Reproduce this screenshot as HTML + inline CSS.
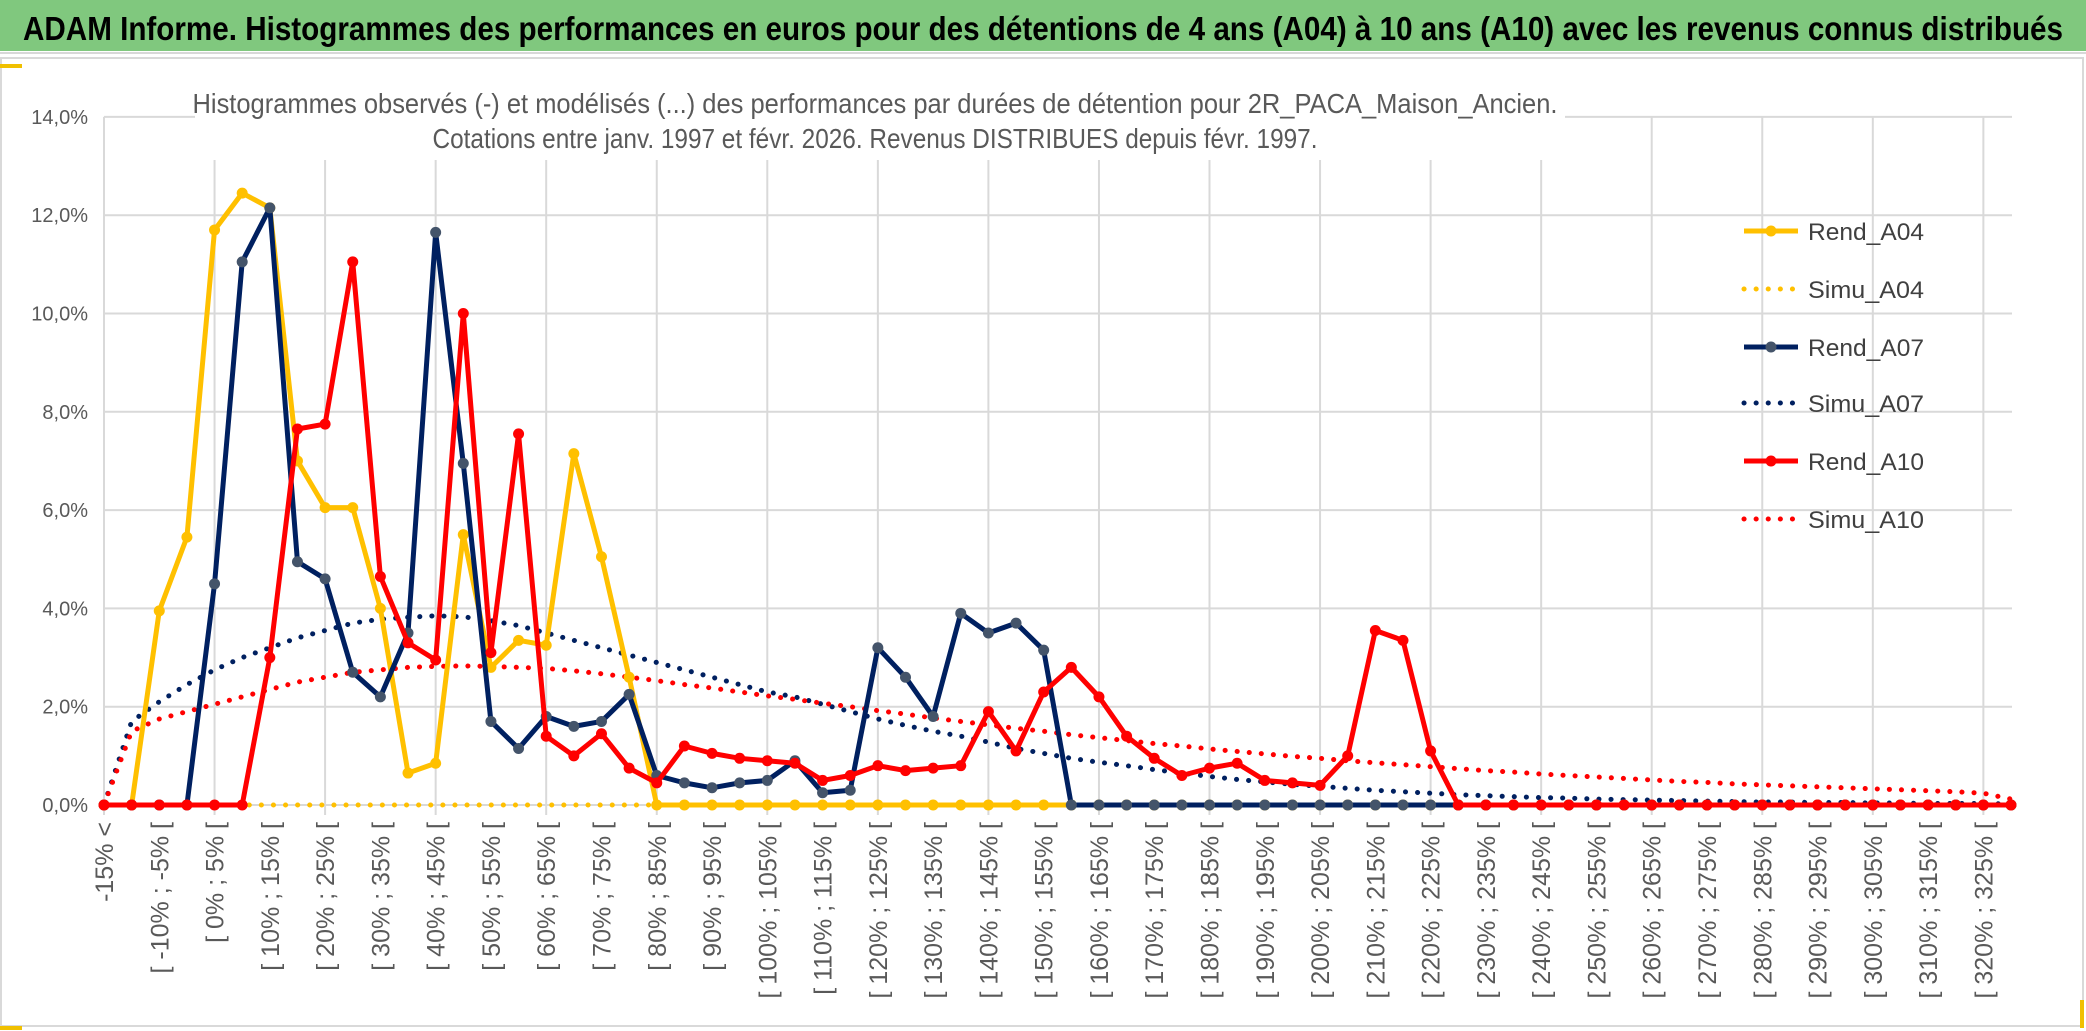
<!DOCTYPE html>
<html><head><meta charset="utf-8"><style>
html,body{margin:0;padding:0;background:#fff;}
svg{display:block;font-family:"Liberation Sans",sans-serif;}
</style></head><body>
<svg id="chart" width="2086" height="1031" viewBox="0 0 2086 1031">
<rect x="0" y="0" width="2086" height="1031" fill="#fff"/>
<rect x="0" y="0" width="2086" height="51" fill="#80C87E"/>
<line x1="0" y1="53" x2="2086" y2="53" stroke="#d8d8d8" stroke-width="2"/>
<text x="1043" y="40" text-anchor="middle" font-size="33" font-weight="bold" fill="#000" textLength="2040" lengthAdjust="spacingAndGlyphs">ADAM Informe. Histogrammes des performances en euros pour des détentions de 4 ans (A04) à 10 ans (A10) avec les revenus connus distribués</text>
<rect x="1" y="58" width="2082" height="968" fill="none" stroke="#d9d9d9" stroke-width="2"/>
<rect x="0" y="64" width="22" height="4" fill="#F0C000"/>
<rect x="0" y="1026" width="22" height="4" fill="#F0C000"/>
<rect x="2080" y="1000" width="4" height="28" fill="#F0C000"/>
<g id="grid"></g>
<g id="yaxis"></g>
<g id="xaxis"></g>
<rect x="195" y="80" width="1370" height="80" fill="#fff"/>
<text x="875" y="113" text-anchor="middle" font-size="28" fill="#595959" textLength="1365" lengthAdjust="spacingAndGlyphs">Histogrammes observés (-) et modélisés (...) des performances par durées de détention pour 2R_PACA_Maison_Ancien.</text>
<text x="875" y="148" text-anchor="middle" font-size="28" fill="#595959" textLength="885" lengthAdjust="spacingAndGlyphs">Cotations entre janv. 1997 et févr. 2026. Revenus DISTRIBUES depuis févr. 1997.</text>
<g id="series"></g>
<g id="legend"></g>
</svg>
<script>
const categoriesCount = 70;
const yTicks = [0,2,4,6,8,10,12,14];
const rendA04 = [0,0,3.95,5.45,11.7,12.45,12.15,7.0,6.05,6.05,4.0,0.65,0.85,5.5,2.8,3.35,3.25,7.15,5.05,2.6,0,0,0,0,0,0,0,0,0,0,0,0,0,0,0,0,0,0,0,0,0,0,0,0,0,0,0,0,0,0,0,0,0,0,0,0,0,0,0,0,0,0,0,0,0,0,0,0,0,0];
const simuA04 = [0,0,0,0,0,0,0,0,0,0,0,0,0,0,0,0,0,0,0,0,0,0,0,0,0,0,0,0,0,0,0,0,0,0,0,0,0,0,0,0,0,0,0,0,0,0,0,0,0,0,0,0,0,0,0,0,0,0,0,0,0,0,0,0,0,0,0,0,0,0];
const rendA07 = [0,0,0,0,4.5,11.05,12.15,4.95,4.6,2.7,2.2,3.5,11.65,6.95,1.7,1.15,1.8,1.6,1.7,2.25,0.6,0.45,0.35,0.45,0.5,0.9,0.25,0.3,3.2,2.6,1.8,3.9,3.5,3.7,3.15,0,0,0,0,0,0,0,0,0,0,0,0,0,0,0,0,0,0,0,0,0,0,0,0,0,0,0,0,0,0,0,0,0,0,0];
const simuA07 = [0,1.7,2.1,2.45,2.75,3.0,3.2,3.4,3.55,3.7,3.78,3.82,3.85,3.83,3.75,3.65,3.5,3.35,3.2,3.05,2.9,2.75,2.6,2.45,2.3,2.2,2.05,1.9,1.75,1.62,1.5,1.4,1.28,1.15,1.05,0.95,0.87,0.8,0.72,0.65,0.58,0.52,0.47,0.42,0.38,0.34,0.3,0.27,0.24,0.21,0.19,0.17,0.15,0.14,0.12,0.11,0.1,0.09,0.08,0.07,0.06,0.06,0.05,0.05,0.04,0.04,0.03,0.03,0.03,0.02];
const rendA10 = [0,0,0,0,0,0,3.0,7.65,7.75,11.05,4.65,3.3,2.95,10.0,3.1,7.55,1.4,1.0,1.45,0.75,0.45,1.2,1.05,0.95,0.9,0.85,0.5,0.6,0.8,0.7,0.75,0.8,1.9,1.1,2.3,2.8,2.2,1.4,0.95,0.6,0.75,0.85,0.5,0.45,0.4,1.0,3.55,3.35,1.1,0,0,0,0,0,0,0,0,0,0,0,0,0,0,0,0,0,0,0,0,0];
const simuA10 = [0,1.5,1.75,1.9,2.05,2.2,2.35,2.5,2.6,2.7,2.75,2.8,2.82,2.83,2.82,2.8,2.78,2.73,2.67,2.6,2.53,2.45,2.38,2.3,2.22,2.15,2.07,2.0,1.92,1.85,1.77,1.7,1.63,1.56,1.5,1.43,1.37,1.31,1.25,1.2,1.14,1.09,1.04,0.99,0.95,0.9,0.86,0.82,0.78,0.74,0.7,0.67,0.63,0.6,0.57,0.54,0.51,0.48,0.46,0.43,0.41,0.39,0.37,0.35,0.33,0.31,0.29,0.27,0.24,0.12];
const legendLabels = ["Rend_A04","Simu_A04","Rend_A07","Simu_A07","Rend_A10","Simu_A10"];

const NS = "http://www.w3.org/2000/svg";
const X0 = 104, X1 = 2011, Y0 = 805, PER2 = 98.3;
function xPos(i){ return X0 + (X1 - X0) * i / (categoriesCount - 1); }
function yPos(v){ return Y0 - v / 2 * PER2; }
function mk(tag, attrs, parent){ const e = document.createElementNS(NS, tag); for (const k in attrs) e.setAttribute(k, attrs[k]); parent.appendChild(e); return e; }
function catLabel(i){ if (i === 0) return "-15% <"; const lo = -15 + 5 * (i - 1); return "[ " + lo + "% ; " + (lo + 5) + "% ["; }

const grid = document.getElementById('grid');
yTicks.forEach(t => {
  const l = mk('line', {x1: X0, x2: 2012, y1: yPos(t), y2: yPos(t), stroke: '#d9d9d9', 'stroke-width': 2}, grid);
  
  
});
for (let i = 0; i < categoriesCount; i += 4) {
  const l = mk('line', {x1: xPos(i), x2: xPos(i), y1: yPos(14), y2: Y0 + 10, stroke: '#d9d9d9', 'stroke-width': 2}, grid);
  
  
}
const yax = document.getElementById('yaxis');
yTicks.forEach(t => {
  const tx = mk('text', {x: 88, y: yPos(t) + 7, 'text-anchor': 'end', 'font-size': 20, fill: '#595959'}, yax);
  tx.textContent = t.toFixed(1).replace('.', ',') + '%';
  
  
});
const xax = document.getElementById('xaxis');
for (let i = 0; i < categoriesCount; i += 2) {
  const x = xPos(i) + 9, y = 822;
  const tx = mk('text', {x: x, y: y, 'text-anchor': 'end', 'font-size': 25, fill: '#595959', transform: 'rotate(-90 ' + x + ' ' + y + ')'}, xax);
  tx.textContent = catLabel(i);
  
  
}

const seriesG = document.getElementById('series');
function dotted(data, color, name){
  const pts = data.map((v, i) => xPos(i) + ',' + yPos(v)).join(' ');
  const p = mk('polyline', {points: pts, fill: 'none', stroke: color, 'stroke-width': 5, 'stroke-linecap': 'round', 'stroke-dasharray': '0.1 12'}, seriesG);
  
  
}
function solid(data, color, mcolor, name){
  const pts = data.map((v, i) => xPos(i) + ',' + yPos(v)).join(' ');
  const p = mk('polyline', {points: pts, fill: 'none', stroke: color, 'stroke-width': 5, 'stroke-linejoin': 'round'}, seriesG);
  
  
  data.forEach((v, i) => {
    const c = mk('circle', {cx: xPos(i), cy: yPos(v), r: 5.5, fill: mcolor}, seriesG);
    
    
  });
}
dotted(simuA04, '#FFC000', 'simu-a04-line');
dotted(simuA07, '#002060', 'simu-a07-line');
dotted(simuA10, '#FF0000', 'simu-a10-line');
solid(rendA04, '#FFC000', '#FFC000', 'rend-a04-line');
solid(rendA07, '#002060', '#44546A', 'rend-a07-line');
solid(rendA10, '#FF0000', '#FF0000', 'rend-a10-line');

const leg = document.getElementById('legend');
const legColors = ['#FFC000','#FFC000','#002060','#002060','#FF0000','#FF0000'];
const legMarker = ['#FFC000',null,'#44546A',null,'#FF0000',null];
const legY = [231,289,347,403,461,519];
legendLabels.forEach((lab, k) => {
  const y = legY[k];
  const isDot = k % 2 === 1;
  const ln = mk('line', {x1: 1744, x2: 1798, y1: y, y2: y, stroke: legColors[k], 'stroke-width': 5, 'stroke-linecap': isDot ? 'round' : 'butt', 'stroke-dasharray': isDot ? '0.1 12' : 'none'}, leg);
  
  
  if (!isDot) {
    const c = mk('circle', {cx: 1771, cy: y, r: 5.5, fill: legMarker[k]}, leg);
    
    
  }
  const t = mk('text', {x: 1808, y: y + 9, 'font-size': 24, fill: '#404040', textLength: 116, lengthAdjust: 'spacingAndGlyphs'}, leg);
  t.textContent = lab;
  
  
});
</script>
</body></html>
